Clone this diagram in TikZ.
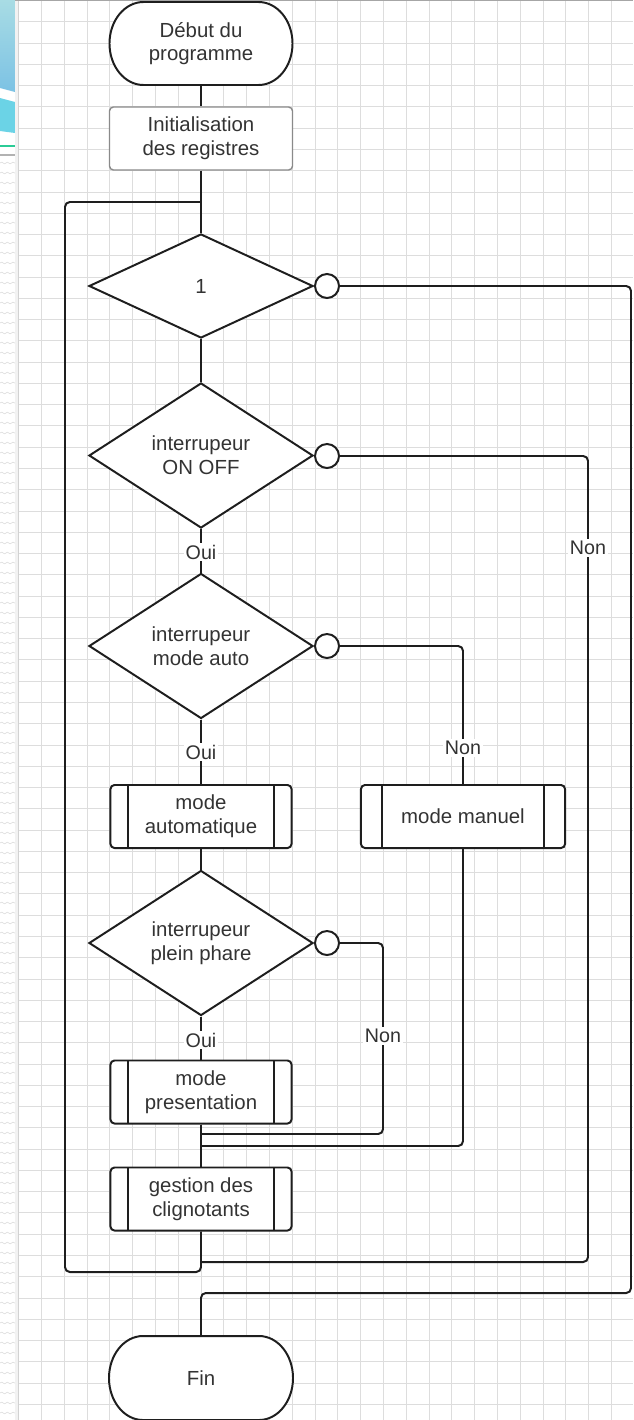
\documentclass[tikz,border=0pt]{standalone}
\usepackage{fontspec}
\setmainfont{Liberation Sans}
\usetikzlibrary{shapes.geometric,calc,decorations.pathmorphing}

\definecolor{ink}{HTML}{1E1E1E}
\definecolor{txt}{HTML}{333333}
\definecolor{initc}{HTML}{8A8A8A}
\definecolor{gridc}{HTML}{DDDDDD}
\definecolor{skyA}{HTML}{A8DCE4}
\definecolor{skyB}{HTML}{7CC2E4}
\definecolor{cyanS}{HTML}{6BD3E6}
\definecolor{greenS}{HTML}{2BCB96}

% outline of a start/end terminal: centre x, centre y, half straight length, half height (px units)
\newcommand\termoutline[4]{%
  \draw[draw=ink, line width=1.4pt, fill=white]
    ({#1-#3},{#2-#4}) -- ({#1+#3},{#2-#4})
    arc[start angle=90, end angle=-90, x radius=0.85cm, y radius=#4*0.025cm]
    -- ({#1-#3},{#2+#4})
    arc[start angle=270, end angle=90, x radius=0.85cm, y radius=#4*0.025cm]
    -- cycle;}

\begin{document}
\begin{tikzpicture}[x=0.025cm, y=-0.025cm,
  txtbase/.style={font=\fontsize{14.5}{16.8}\selectfont, text=txt, align=center},
  link/.style={draw=ink, line width=1.4pt, rounded corners=0.12cm},
  outline/.style={draw=ink, line width=1.4pt, fill=white},
  termnode/.style={txtbase, inner sep=0, minimum width=4.6cm, minimum height=2.1cm},
  initbox/.style={txtbase, draw=initc, line width=1pt, fill=white, rounded corners=0.1cm,
    minimum width=4.575cm, minimum height=1.575cm, inner sep=0},
  procbar/.initial=0.45cm,
  procbox/.style={txtbase, outline, rounded corners=0.1cm, minimum width=#1,
    minimum height=1.575cm, inner sep=0,
    path picture={
      \draw[ink, line width=1.4pt]
        ([xshift=\pgfkeysvalueof{/tikz/procbar}]path picture bounding box.north west) --
        ([xshift=\pgfkeysvalueof{/tikz/procbar}]path picture bounding box.south west)
        ([xshift=-\pgfkeysvalueof{/tikz/procbar}]path picture bounding box.north east) --
        ([xshift=-\pgfkeysvalueof{/tikz/procbar}]path picture bounding box.south east);}},
  decision/.style={txtbase, outline, diamond, aspect=1.5, inner sep=0,
    minimum width=5.6cm, minimum height=3.625cm},
  tinycirc/.style={outline, circle, minimum size=0.6cm, inner sep=0},
  lbl/.style={font=\fontsize{14}{16}\selectfont, text=txt, fill=white, inner sep=1.5pt},
]
\useasboundingbox (0,0) rectangle (633,1420);
\fill[white] (0,0) rectangle (633,1420);

% squared paper
\foreach \i in {0,...,27}
  \draw[gridc, line width=0.6pt] ({18.6+22.8*\i},0) -- ({18.6+22.8*\i},1420);
\foreach \j in {0,...,66}
  \draw[gridc, line width=0.6pt] (18,{0.5+21.27*\j}) -- (633,{0.5+21.27*\j});

% left margin strip
\shade[top color=skyA, bottom color=skyB] (0,0) -- (15,0) -- (15,92) -- (0,88) -- cycle;
\fill[cyanS] (0,98) -- (15,102) -- (15,133) -- (0,131) -- cycle;
\draw[greenS, line width=0.8pt] (0,146) -- (15,146);
\draw[gray!60, line width=0.8pt] (0,155) -- (15,155);
\foreach \j in {0,...,125}
  \draw[gray!28, line width=0.4pt, decorate, decoration={snake, amplitude=0.6pt, segment length=4pt}]
    (0,{163+10*\j}) -- (15,{163+10*\j});
\fill[gray!10] (15,0) rectangle (18.6,1420);
\draw[gray!35, line width=0.6pt] (18.6,0) -- (18.6,1420);
\draw[gray!70, line width=0.8pt] (15,0.4) -- (633,0.4);

% blocks
\termoutline{201}{43.5}{57.5}{41.5}
\node[termnode, minimum height=2.075cm] (start) at (201,43.5) {Début du\\programme};
\node[initbox] (init) at (201,138.5) {Initialisation\\des registres};
\node[decision, minimum height=2.6cm] (test1) at (201,286) {1};
\node[tinycirc] (no1) at (327,286) {};
\node[decision] (onoff) at (201,455.5) {interrupeur\\ON OFF};
\node[tinycirc] (no2) at (327,456) {};
\node[decision] (auto) at (201,646) {interrupeur\\mode auto};
\node[tinycirc] (no3) at (327,646) {};
\node[procbox=4.525cm] (automode) at (201,816.5) {mode\\automatique};
\node[procbox=5.1cm, procbar=0.52cm] (manual) at (463,816.5) {mode manuel};
\node[decision] (phare) at (201,943) {interrupeur\\plein phare};
\node[tinycirc] (no4) at (327,943) {};
\node[procbox=4.525cm] (present) at (201,1092) {mode\\presentation};
\node[procbox=4.525cm] (blink) at (201,1199) {gestion des\\clignotants};
\termoutline{201}{1378}{58}{42}
\node[termnode, minimum height=2.1cm] (fin) at (201,1378) {Fin};

% routing points
\coordinate (loopTop) at (201,202);
\coordinate (loopBot) at (201,1272);
\coordinate (railL) at (65,0);
\coordinate (railR) at (631,0);
\coordinate (railOn) at (588,0);
\coordinate (railPh) at (383,0);
\coordinate (joinPh) at (201,1134);
\coordinate (joinMan) at (201,1146);
\coordinate (joinOn) at (201,1262);
\coordinate (finTop) at (201,1293);

% connectors
\draw[link] (start) -- (init);
\draw[link] (init) -- (test1);
\draw[link] (blink.south) -- (loopBot) -- (loopBot -| railL) -- (loopTop -| railL) -- (loopTop);
\draw[link] (test1.east) -- (no1.west);
\draw[link] (no1.east) -- (no1 -| railR) -- (finTop -| railR) -- (finTop) -- (fin.north);
\draw[link] (test1) -- (onoff);
\draw[link] (onoff.east) -- (no2.west);
\draw[link] (no2.east) -- (no2 -| railOn) -- (joinOn -| railOn) -- (joinOn);
\draw[link] (onoff) -- (auto);
\draw[link] (auto.east) -- (no3.west);
\draw[link] (no3.east) -- (no3 -| manual) -- (manual.north);
\draw[link] (auto) -- (automode);
\draw[link] (automode) -- (phare);
\draw[link] (phare.east) -- (no4.west);
\draw[link] (no4.east) -- (no4 -| railPh) -- (joinPh -| railPh) -- (joinPh);
\draw[link] (phare) -- (present);
\draw[link] (present) -- (blink);
\draw[link] (manual.south) -- (joinMan -| manual) -- (joinMan);

% branch labels
\node[lbl] (ouiA) at (201,552) {Oui};
\node[lbl] (ouiB) at (201,752) {Oui};
\node[lbl] (ouiC) at (201,1040) {Oui};
\node[lbl] (nonA) at (588,548) {Non};
\node[lbl] (nonB) at (463,748) {Non};
\node[lbl] (nonC) at (383,1036) {Non};
\end{tikzpicture}
\end{document}
